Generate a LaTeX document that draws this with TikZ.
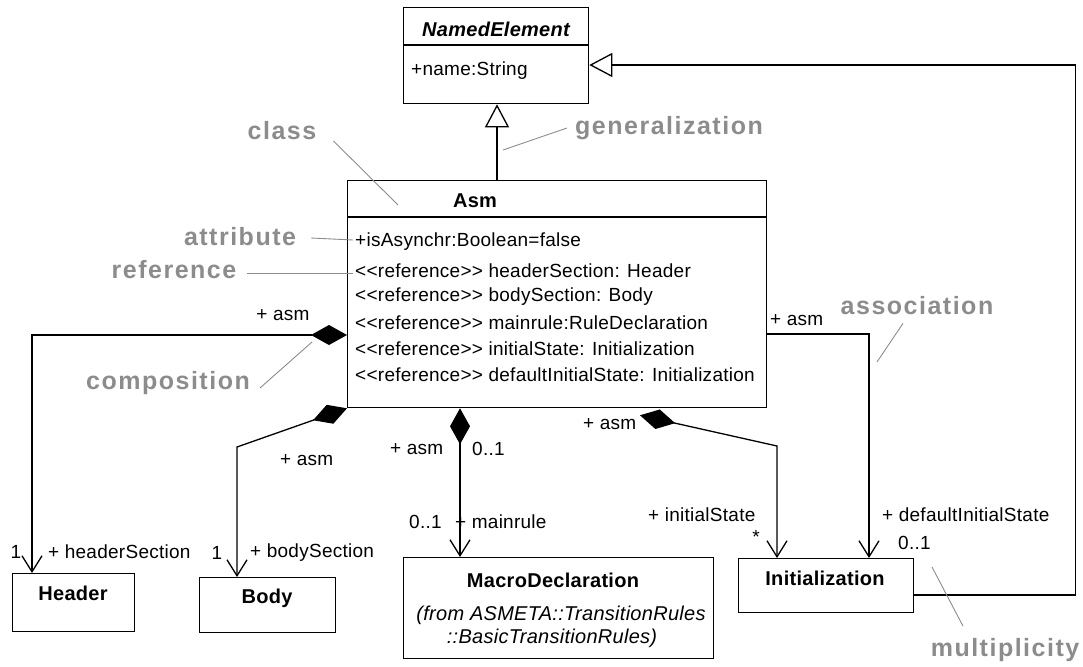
\documentclass[tikz,border=0pt]{standalone}
\usepackage{fontspec}
\setmainfont[LetterSpace=1.4]{Liberation Sans}
\newfontfamily\notefont[LetterSpace=6]{Liberation Sans}
\usetikzlibrary{arrows.meta,calc}
\definecolor{notegray}{HTML}{8C8C8C}
\begin{document}
\begin{tikzpicture}[x=1pt,y=-1pt,
  box/.style={draw,line width=1.3pt,inner sep=0,anchor=north west},
  txt/.style={inner sep=0,font=\fontsize{19}{22}\selectfont},
  lft/.style={txt,anchor=west},
  title/.style={inner sep=0,font=\fontsize{20}{23}\selectfont\bfseries},
  note/.style={inner sep=0,text=notegray,font=\fontsize{25}{28}\selectfont\notefont\bfseries},
  leader/.style={draw=notegray,line width=0.9pt},
  conn/.style={line width=1.3pt},
  comp/.style={conn,{Diamond[length=36pt,width=20pt]}-{Straight Barb[length=16pt,width=20pt,line width=1.3pt]}},
  assoc/.style={conn,-{Straight Barb[length=16pt,width=20pt,line width=1.3pt]}},
  gen/.style={conn,-{Triangle[open,length=23pt,width=24pt,fill=white,line width=1.3pt]}}]
\useasboundingbox (0,0) rectangle (1083,666);

% classes
\node[box,minimum width=185pt,minimum height=96pt] (ne) at (403,7) {};
\node[box,minimum width=419pt,minimum height=227pt] (asm) at (347,180) {};
\node[box,minimum width=122pt,minimum height=58pt] (header) at (12,573) {};
\node[box,minimum width=136pt,minimum height=55pt] (body) at (199,577) {};
\node[box,minimum width=310pt,minimum height=101pt] (macro) at (403,557) {};
\node[box,minimum width=175pt,minimum height=54pt] (init) at (738,558) {};

% compartment separators
\draw[line width=1.3pt] (ne.west |- 0,45) -- (ne.east |- 0,45);
\draw[line width=1.3pt] (asm.west |- 0,217) -- (asm.east |- 0,217);

% class contents
\node[title,font=\fontsize{20}{23}\selectfont\bfseries\itshape] (neName) at (496,29) {NamedElement};
\node[lft] (neAttr) at (411,71) {+name:String};
\node[title] (asmName) at (475,201) {Asm};
\node[lft] (a1) at (355,242) {+isAsynchr:Boolean=false};
\node[lft] (a2) at (355,271) {<{}<reference>{}> headerSection: Header};
\node[lft] (a3) at (355,297) {<{}<reference>{}> bodySection: Body};
\node[lft] (a4) at (355,323) {<{}<reference>{}> mainrule:RuleDeclaration};
\node[lft] (a5) at (355,349) {<{}<reference>{}> initialState: Initialization};
\node[lft] (a6) at (355,375) {<{}<reference>{}> defaultInitialState: Initialization};
\node[title] (headerName) at (73,593) {Header};
\node[title] (bodyName) at (267,598) {Body};
\node[title] (macroName) at (553,580) {MacroDeclaration};
\node[txt,font=\fontsize{20}{23}\selectfont\itshape] (macroFrom1) at (561,615) {(from ASMETA::TransitionRules};
\node[txt,font=\fontsize{20}{23}\selectfont\itshape] (macroFrom2) at (552,638) {::BasicTransitionRules)};
\node[title] (initName) at (825,578) {Initialization};

% generalizations
\draw[gen] ($(asm.north west)+(150,0)$) -- ($(ne.south west)+(94,0)$);
\draw[gen] ($(init.north east)+(0,37)$) -| ($(ne.north east)+(486,58)$) -- ($(ne.north east)+(0,58)$);

% compositions
\draw[comp] ($(asm.north west)+(0,155)$) -| ($(header.north west)+(20,0)$);
\draw[comp] (asm.south west) -- ($(body.north west)+(38,-130)$) -- ($(body.north west)+(38,0)$);
\draw[comp] ($(asm.south west)+(113,0)$) -- ($(macro.north west)+(57,0)$);
\draw[comp] ($(asm.south west)+(293,7)$) -- ($(init.north west)+(39,-112)$) -- ($(init.north west)+(39,0)$);

% association
\draw[assoc] ($(asm.north east)+(0,154)$) -| ($(init.north west)+(131,0)$);

% role names and multiplicities
\node[txt] (hAsm) at (283,315) {+ asm};
\node[txt] (hMul) at (16,552) {1};
\node[lft] (hRole) at (48,552) {+ headerSection};
\node[lft] (bAsm) at (280,460) {+ asm};
\node[txt] (bMul) at (217,553) {1};
\node[lft] (bRole) at (250,553) {+ bodySection};
\node[lft] (mAsm) at (390,449) {+ asm};
\node[lft] (mMulA) at (472,449) {0..1};
\node[lft] (mMul) at (409,522) {0..1};
\node[lft] (mRole) at (455,522) {+ mainrule};
\node[lft] (iAsm) at (583,424) {+ asm};
\node[lft] (iRole) at (648,515) {+ initialState};
\node[txt] (iMul) at (756,537) {*};
\node[lft] (dAsm) at (770,320) {+ asm};
\node[lft] (dRole) at (882,515) {+ defaultInitialState};
\node[lft] (dMul) at (898,543) {0..1};

% explanatory notes
\node[note] (nClass) at (282,131) {class};
\node[note] (nGen) at (669,128) {generalization};
\node[note] (nAttr) at (240,237) {attribute};
\node[note] (nRef) at (174,270) {reference};
\node[note] (nComp) at (168,383) {composition};
\node[note] (nAssoc) at (917,306) {association};
\node[note] (nMult) at (1005,650) {multiplicity};

\coordinate (tClass) at (398,205);
\coordinate (tGen) at (503,150);
\coordinate (tAttr) at (353,240);
\coordinate (tRef) at (353,273);
\coordinate (tComp) at (312,342);
\coordinate (tAssoc) at (877,362);
\coordinate (tMult) at (932,567);

\draw[leader] ($(nClass.east)+(17,10)$) -- (tClass);
\draw[leader] ($(nGen.west)+(-8,0)$) -- (tGen);
\draw[leader] ($(nAttr.east)+(15,1)$) -- (tAttr);
\draw[leader] ($(nRef.east)+(11,3)$) -- (tRef);
\draw[leader] ($(nComp.east)+(10,5)$) -- (tComp);
\draw[leader] ($(nAssoc.south)+(-14,8)$) -- (tAssoc);
\draw[leader] ($(nMult.north)+(-42,-12)$) -- (tMult);
\end{tikzpicture}
\end{document}
